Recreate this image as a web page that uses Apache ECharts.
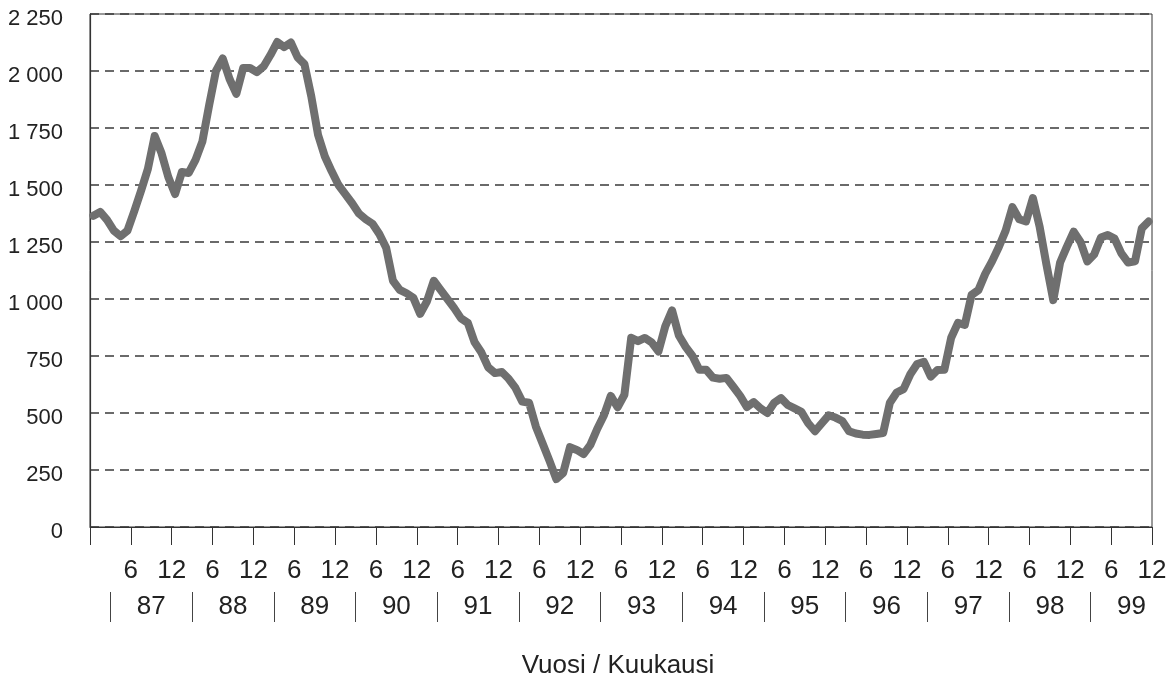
<!DOCTYPE html>
<html>
<head>
<meta charset="utf-8">
<title>Vuosi / Kuukausi</title>
<script src="https://cdn.jsdelivr.net/npm/echarts@6/dist/echarts.min.js"></script>
<style>
  html, body { margin: 0; padding: 0; background: #fff; }
  #chart { width: 1172px; height: 684px; }
</style>
</head>
<body>
<div id="chart"></div>
<script>
  // kuukausiarvot 1/1987 - 12/1999
  var values = [
    1365, 1382, 1347, 1300, 1275, 1300, 1385, 1475, 1570, 1715, 1640, 1535,
    1460, 1557, 1553, 1610, 1690, 1850, 2000, 2055, 1965, 1900, 2013, 2013,
    1995, 2020, 2070, 2127, 2105, 2125, 2060, 2030, 1890, 1720, 1625, 1560,
    1500, 1460, 1420, 1375, 1350, 1330, 1285, 1225, 1080, 1040, 1025, 1005,
    935, 990, 1080, 1040, 1000, 960, 915, 895, 810, 765, 700, 675,
    680, 650, 610, 550, 545, 440, 365, 290, 210, 237, 350, 338,
    320, 360, 430, 490, 575, 525, 580, 830, 815, 829, 810, 770,
    880, 950, 840, 790, 750, 690, 690, 655, 650, 654, 615, 575,
    526, 548, 520, 500, 545, 565, 535, 520, 505, 455, 420, 455,
    490, 480, 465, 420, 410, 405, 404, 408, 412, 545, 590, 605,
    670, 715, 724, 660, 689, 690, 830, 895, 886, 1018, 1039, 1110,
    1165, 1228, 1300, 1403, 1350, 1340, 1443, 1316, 1150, 995, 1160, 1230,
    1295, 1250, 1165, 1195, 1270, 1281, 1265, 1200, 1160, 1165, 1310, 1340
  ];
  var years = ['87', '88', '89', '90', '91', '92', '93', '94', '95', '96', '97', '98', '99'];
  var yTicks = [0, 250, 500, 750, 1000, 1250, 1500, 1750, 2000, 2250];

  var font = '"Liberation Sans", Arial, Helvetica, sans-serif';

  // kuukausi i piirretään kategorian keskelle
  var lineData = values.map(function (v, i) { return [i + 0.5, v]; });

  // vuosien erottimet ja nimien paikat (kuukausina)
  var yearSeps = years.map(function (y, i) { return 3 + i * 12; });
  var yearMids = years.map(function (y, i) { return 9 + i * 12; });

  var chart = echarts.init(document.getElementById('chart'), null, { renderer: 'canvas' });

  var option = {
    animation: false,
    backgroundColor: '#fff',
    grid: {
      left: 90,
      right: 20,
      top: 14,
      bottom: 157,
      show: true,
      borderColor: '#333',
      borderWidth: 1
    },
    xAxis: [
      {
        type: 'value',
        min: 0,
        max: values.length,
        interval: 6,
        axisLine: { show: true, lineStyle: { color: '#333', width: 1.2 } },
        axisTick: { show: true, length: 18, lineStyle: { color: '#333' } },
        splitLine: { show: false },
        axisLabel: {
          margin: 31,
          fontFamily: font,
          fontSize: 26,
          color: '#222',
          formatter: function (v) {
            if (v === 0) return '';
            return v % 12 === 0 ? '12' : '6';
          }
        },
        name: 'Vuosi / Kuukausi',
        nameLocation: 'middle',
        nameGap: 126,
        nameTextStyle: { fontFamily: font, fontSize: 26, color: '#222', verticalAlign: 'top', padding: [0, 6, 0, 0] }
      },
      {
        type: 'value',
        position: 'bottom',
        offset: 65,
        min: 0,
        max: values.length,
        axisLine: { show: false },
        axisTick: { show: true, length: 30, customValues: yearSeps, lineStyle: { color: '#444' } },
        splitLine: { show: false },
        axisLabel: {
          margin: 2,
          fontFamily: font,
          fontSize: 26,
          color: '#222',
          customValues: yearMids,
          formatter: function (v) {
            return years[(v - 9) / 12];
          }
        }
      }
    ],
    yAxis: {
      type: 'value',
      min: yTicks[0],
      max: yTicks[yTicks.length - 1],
      interval: 250,
      axisLine: { show: true, lineStyle: { color: '#333', width: 1.2 } },
      axisTick: { show: false },
      splitLine: {
        show: true,
        lineStyle: { color: '#3a3a3a', type: [9, 6], width: 1.6 }
      },
      axisLabel: {
        margin: 27,
        color: '#222',
        formatter: function (v) {
          return '{v|' + String(v).replace(/\B(?=(\d{3})+(?!\d))/g, ' ') + '}';
        },
        rich: {
          v: { fontFamily: font, fontSize: 22, color: '#222', padding: [10, 0, 0, 0] }
        }
      }
    },
    series: [
      {
        type: 'line',
        data: lineData,
        showSymbol: false,
        smooth: false,
        lineStyle: { color: '#6f6f6f', width: 8, cap: 'round', join: 'round' },
        z: 3
      }
    ]
  };

  chart.setOption(option);
</script>
</body>
</html>
